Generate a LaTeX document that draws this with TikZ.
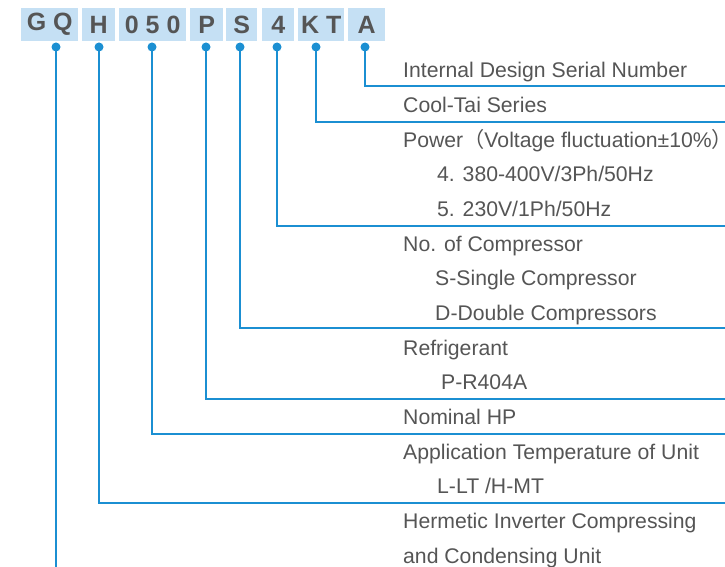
\documentclass[tikz,border=0pt]{standalone}
\usepackage{fontspec}
\setmainfont{Liberation Sans}
\newfontfamily\cjk{Noto Sans CJK SC}
\usetikzlibrary{positioning}
\definecolor{leadblue}{RGB}{27,143,210}
\definecolor{boxblue}{RGB}{197,224,244}
\definecolor{txtgray}{RGB}{85,85,85}
\tikzset{
  codebox/.style={fill=boxblue,text=txtgray,anchor=west,minimum height=33pt,inner sep=0pt,
    font=\fontsize{25}{25}\selectfont\bfseries},
  rowtext/.style={anchor=base west,text=txtgray,inner sep=0pt,font=\fontsize{21.2}{21.2}\selectfont},
  lead/.style={draw=leadblue,line width=2pt},
  leaddot/.style={fill=leadblue}
}
\begin{document}
\begin{tikzpicture}[x=1pt,y=-1pt]
  \useasboundingbox (0,0) rectangle (725,567);
  % code boxes
  \node[codebox,minimum width=57pt](gq) at (21,24.5){G Q};
  \node[codebox,minimum width=33pt](h) at (82,24.5){H};
  \node[codebox,minimum width=67pt](hp) at (119,24.5){0 5 0};
  \node[codebox,minimum width=33pt](p) at (190,24.5){P};
  \node[codebox,minimum width=31pt](s) at (226,24.5){S};
  \node[codebox,minimum width=32pt](ph) at (262,24.5){4};
  \node[codebox,minimum width=46pt](kt) at (298,24.5){K T};
  \node[codebox,minimum width=37pt](a) at (348,24.5){A};
  % descriptions
  \node[rowtext](internal) at (403,78){Internal Design Serial Number};
  \node[rowtext](series) at (403,112.6){Cool-Tai Series};
  \node[rowtext](power) at (403,147.3){Power{\cjk （}Voltage fluctuation±10\%{\cjk ）}};
  \node[rowtext](powerA) at (437,181.9){4. 380-400V/3Ph/50Hz};
  \node[rowtext](powerB) at (437,216.6){5. 230V/1Ph/50Hz};
  \node[rowtext](compr) at (403,251.2){No. of Compressor};
  \node[rowtext](comprS) at (435,285.8){S-Single Compressor};
  \node[rowtext](comprD) at (435,320.5){D-Double Compressors};
  \node[rowtext](refrig) at (403,355.1){Refrigerant};
  \node[rowtext](refrigP) at (441,389.8){P-R404A};
  \node[rowtext](nominal) at (403,424.4){Nominal HP};
  \node[rowtext](apptemp) at (403,459){Application Temperature of Unit};
  \node[rowtext](apptempL) at (437,493.7){L-LT /H-MT};
  \node[rowtext](unit) at (403,528.3){Hermetic Inverter Compressing};
  \node[rowtext](unitB) at (403,563){and Condensing Unit};
  % dots under the boxes
  \coordinate (gq dot) at (56,47);
  \coordinate (h dot) at (99,47);
  \coordinate (hp dot) at (152,47);
  \coordinate (p dot) at (206,47);
  \coordinate (s dot) at (240,47);
  \coordinate (ph dot) at (277,47);
  \coordinate (kt dot) at (316,47);
  \coordinate (a dot) at (365,47);
  % line ends
  \coordinate (gq end) at (56,567);
  \coordinate (h end) at (725,503);
  \coordinate (hp end) at (725,434);
  \coordinate (p end) at (725,399);
  \coordinate (s end) at (725,328);
  \coordinate (ph end) at (725,226);
  \coordinate (kt end) at (725,122);
  \coordinate (a end) at (725,86);
  \draw[lead] (gq dot) -- (gq end);
  \foreach \c in {h,hp,p,s,ph,kt,a}
    \draw[lead] (\c\space dot) |- (\c\space end);
  \foreach \c in {gq,h,hp,p,s,ph,kt,a}
    \fill[leaddot] (\c\space dot) circle (4.5);
\end{tikzpicture}
\end{document}
